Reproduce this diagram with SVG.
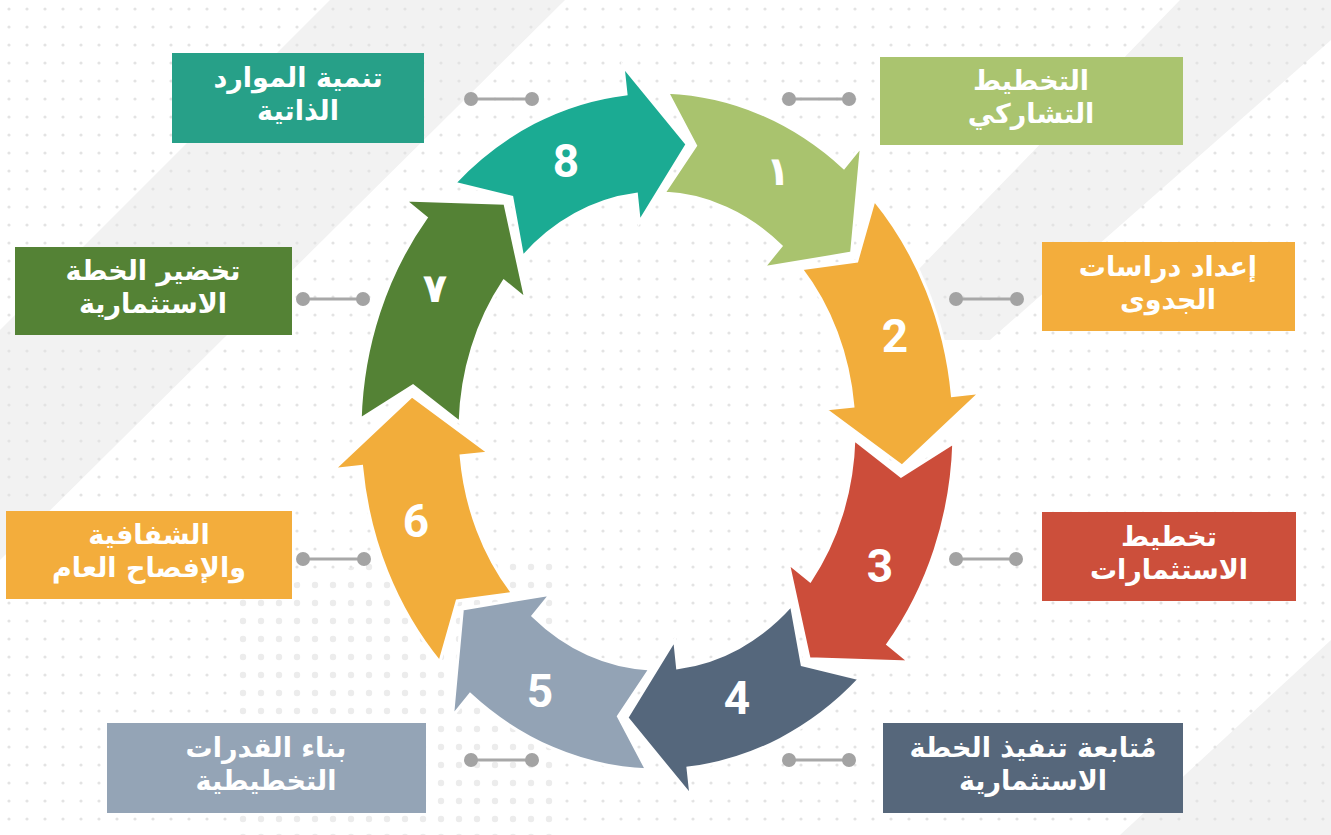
<svg xmlns="http://www.w3.org/2000/svg" width="1331" height="835" viewBox="0 0 1331 835">
  <defs>
    <pattern id="dots" width="18" height="18" patternUnits="userSpaceOnUse">
      <circle cx="9" cy="9" r="1.6" fill="#e3e3e3"/>
    </pattern>
    <pattern id="bigdots" width="18" height="18" patternUnits="userSpaceOnUse">
      <circle cx="9" cy="9" r="3.2" fill="#ececec"/>
    </pattern>
    <style>
      .arrow { stroke: #ffffff; stroke-width: 3; stroke-linejoin: miter; }
      .num { font-family: Roboto, "Open Sans", "DejaVu Sans", sans-serif; font-weight: bold; font-size: 46px; fill: #ffffff; text-anchor: middle; }
      .numar { font-family: "DejaVu Sans", sans-serif; font-weight: bold; font-size: 40px; fill: #ffffff; text-anchor: middle; }
      .lbl { font-family: "DejaVu Sans", sans-serif; font-weight: bold; font-size: 27px; fill: #ffffff; text-anchor: middle; }
      .cline { stroke: #a8a8a8; stroke-width: 3; }
      .cdot { fill: #a3a3a3; }
    </style>
  </defs>

  <!-- background -->
  <g id="background">
    <rect x="0" y="0" width="1331" height="835" fill="#ffffff"/>
    <polygon points="330,0 565,0 0,560 0,330" fill="#f2f2f2"/>
    <polygon points="1180,0 1331,0 1331,40 990,340 850,340" fill="#f2f2f2"/>
    <polygon points="1331,640 1331,835 1120,835" fill="#f2f2f2"/>
    <rect x="0" y="0" width="1331" height="835" fill="url(#dots)"/>
    <polygon points="560,560 560,835 230,835 230,600 380,560" fill="url(#bigdots)"/>
  </g>

  <!-- connectors -->
  <g id="connectors">
    <line class="cline" x1="471" y1="99" x2="532" y2="99"/>
    <circle class="cdot" cx="471" cy="99" r="7"/><circle class="cdot" cx="532" cy="99" r="7"/>
    <line class="cline" x1="789" y1="99" x2="849" y2="99"/>
    <circle class="cdot" cx="789" cy="99" r="7"/><circle class="cdot" cx="849" cy="99" r="7"/>
    <line class="cline" x1="956" y1="299" x2="1017" y2="299"/>
    <circle class="cdot" cx="956" cy="299" r="7"/><circle class="cdot" cx="1017" cy="299" r="7"/>
    <line class="cline" x1="956" y1="559" x2="1016" y2="559"/>
    <circle class="cdot" cx="956" cy="559" r="7"/><circle class="cdot" cx="1016" cy="559" r="7"/>
    <line class="cline" x1="789" y1="760" x2="849" y2="760"/>
    <circle class="cdot" cx="789" cy="760" r="7"/><circle class="cdot" cx="849" cy="760" r="7"/>
    <line class="cline" x1="471" y1="760" x2="532" y2="760"/>
    <circle class="cdot" cx="471" cy="760" r="7"/><circle class="cdot" cx="532" cy="760" r="7"/>
    <line class="cline" x1="303" y1="559" x2="364" y2="559"/>
    <circle class="cdot" cx="303" cy="559" r="7"/><circle class="cdot" cx="364" cy="559" r="7"/>
    <line class="cline" x1="303" y1="299" x2="363" y2="299"/>
    <circle class="cdot" cx="303" cy="299" r="7"/><circle class="cdot" cx="363" cy="299" r="7"/>
  </g>

  <!-- cycle arrows -->
  <g id="arrow-7">
    <path class="arrow" fill="#548235" d="M360.2,419.2 A297,339 0 0 1 426.2,217.7 L404.4,200.0 L504.9,203.3 L525.7,298.8 L503.9,281.2 A197,238 0 0 0 460.1,422.7 L413.0,385.8 Z"/>
    <text class="numar" x="435" y="302">٧</text>
  </g>
  <g id="arrow-8">
    <path class="arrow" fill="#1bab93" d="M454.4,183.1 A297,339 0 0 1 626.0,93.9 L623.0,66.0 L687.1,144.2 L639.3,222.2 L636.4,194.3 A197,238 0 0 0 522.6,256.9 L511.8,197.2 Z"/>
    <text class="num" x="566" y="177">8</text>
  </g>
  <g id="arrow-1">
    <path class="arrow" fill="#a9c36e" d="M667.4,92.2 A297,339 0 0 1 843.9,167.6 L861.5,145.8 L851.6,253.1 L763.4,267.8 L781.0,246.0 A197,238 0 0 0 663.9,193.1 L695.6,145.6 Z"/>
    <text class="numar" x="778" y="185">١</text>
  </g>
  <g id="arrow-2">
    <path class="arrow" fill="#f2ad3b" d="M874.2,199.8 A297,339 0 0 1 952.4,395.6 L980.2,392.6 L902.1,466.2 L825.1,409.1 L852.9,406.1 A197,238 0 0 0 801.1,268.7 L856.8,261.1 Z"/>
    <text class="num" x="895" y="352">2</text>
  </g>
  <g id="arrow-3">
    <path class="arrow" fill="#cc4d3a" d="M953.8,442.8 A297,339 0 0 1 887.8,644.3 L909.6,662.0 L809.1,658.7 L788.3,563.2 L810.1,580.8 A197,238 0 0 0 853.9,439.3 L901.0,476.2 Z"/>
    <text class="num" x="880" y="582">3</text>
  </g>
  <g id="arrow-4">
    <path class="arrow" fill="#55677c" d="M859.6,678.9 A297,339 0 0 1 688.0,768.1 L691.0,796.0 L626.9,717.8 L674.7,639.8 L677.6,667.7 A197,238 0 0 0 791.4,605.1 L802.2,664.8 Z"/>
    <text class="num" x="737" y="714">4</text>
  </g>
  <g id="arrow-5">
    <path class="arrow" fill="#93a3b5" d="M646.6,769.8 A297,339 0 0 1 470.1,694.4 L452.5,716.2 L462.4,608.9 L550.6,594.2 L533.0,616.0 A197,238 0 0 0 650.1,668.9 L618.4,716.4 Z"/>
    <text class="num" x="540" y="707">5</text>
  </g>
  <g id="arrow-6">
    <path class="arrow" fill="#f2ad3b" d="M439.8,662.2 A297,339 0 0 1 361.6,466.4 L333.8,469.4 L411.9,395.8 L488.9,452.9 L461.1,455.9 A197,238 0 0 0 512.9,593.3 L457.2,600.9 Z"/>
    <text class="num" x="416" y="537">6</text>
  </g>

  <!-- label boxes -->
  <g id="node-8">
    <rect x="172" y="53" width="252" height="90" fill="#27a088"/>
    <text class="lbl" x="298" y="87">تنمية الموارد</text>
    <text class="lbl" x="298" y="120">الذاتية</text>
  </g>
  <g id="node-1">
    <rect x="880" y="57" width="303" height="88" fill="#aac46f"/>
    <text class="lbl" x="1031" y="90">التخطيط</text>
    <text class="lbl" x="1031" y="123">التشاركي</text>
  </g>
  <g id="node-2">
    <rect x="1042" y="242" width="253" height="89" fill="#f3ad3c"/>
    <text class="lbl" x="1168" y="276">إعداد دراسات</text>
    <text class="lbl" x="1168" y="309">الجدوى</text>
  </g>
  <g id="node-3">
    <rect x="1042" y="512" width="254" height="89" fill="#cc4f3b"/>
    <text class="lbl" x="1169" y="546">تخطيط</text>
    <text class="lbl" x="1169" y="579">الاستثمارات</text>
  </g>
  <g id="node-4">
    <rect x="883" y="723" width="300" height="90" fill="#56677b"/>
    <text class="lbl" x="1033" y="757">مُتابعة تنفيذ الخطة</text>
    <text class="lbl" x="1033" y="790">الاستثمارية</text>
  </g>
  <g id="node-5">
    <rect x="107" y="723" width="319" height="90" fill="#94a4b6"/>
    <text class="lbl" x="266" y="757">بناء القدرات</text>
    <text class="lbl" x="266" y="790">التخطيطية</text>
  </g>
  <g id="node-6">
    <rect x="6" y="511" width="286" height="88" fill="#f3ad3c"/>
    <text class="lbl" x="149" y="544">الشفافية</text>
    <text class="lbl" x="149" y="577">والإفصاح العام</text>
  </g>
  <g id="node-7">
    <rect x="15" y="247" width="277" height="88" fill="#548235"/>
    <text class="lbl" x="153" y="280">تخضير الخطة</text>
    <text class="lbl" x="153" y="313">الاستثمارية</text>
  </g>
</svg>
